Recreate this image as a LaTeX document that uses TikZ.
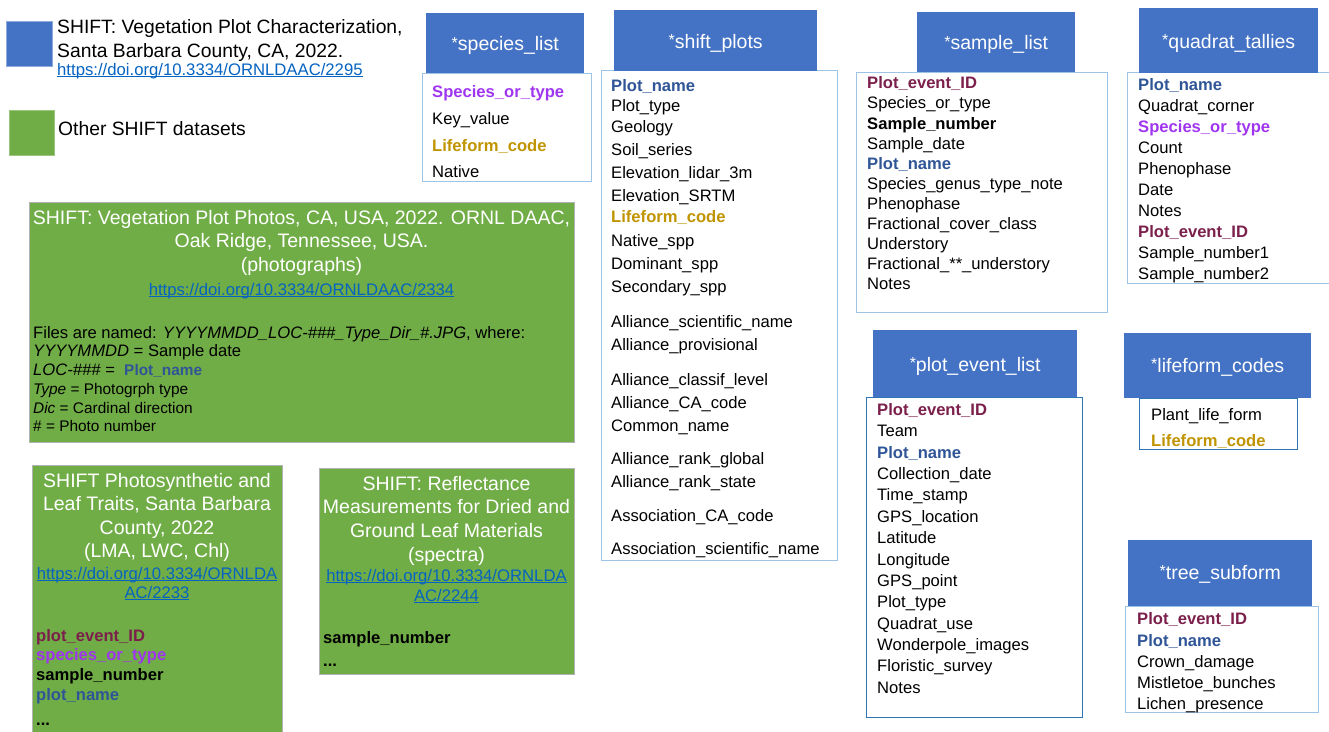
\documentclass[tikz,border=0pt]{standalone}
\usepackage{fontspec}
\setmainfont{Liberation Sans}
\definecolor{hdrblue}{HTML}{4472C4}
\definecolor{grn}{HTML}{70AD47}
\definecolor{linkblue}{HTML}{0563C1}
\definecolor{keymaroon}{HTML}{7B1F4B}
\definecolor{keyblue}{HTML}{2F5597}
\definecolor{keypurple}{HTML}{A035F0}
\definecolor{keygold}{HTML}{C09400}
\definecolor{tblline}{HTML}{9DC3E6}
\definecolor{tblstrong}{HTML}{2E75B6}
\newcommand{\fldfont}{\fontsize{16.6}{20}\selectfont}
\newcommand{\hdrfont}{\fontsize{19.5}{23}\selectfont}
\newcommand{\lnkfont}{\fontsize{16.7}{20}\selectfont}
\newcommand{\lnk}[1]{{\color{linkblue}\setbox0\hbox{#1}\rlap{\rule[-1.8pt]{\wd0}{0.9pt}}\box0}}
\newcommand{\hdrast}{\raisebox{2.5pt}{\fontsize{16}{16}\selectfont *}}
\tikzset{
  hdr/.style={fill=hdrblue, text=white, font=\hdrfont, anchor=north west, inner sep=0pt, text height=19pt, text depth=4pt},
  tbl/.style={draw=tblline, line width=0.8pt, anchor=north west, inner sep=0pt},
  tblstrong/.style={tbl, draw=tblstrong, line width=1.3pt},
  fld/.style={anchor=base west, inner sep=0pt, font=\fldfont, text=black},
  bfld/.style={fld, font=\fldfont\bfseries},
  pkey/.style={bfld, text=keymaroon},
  pname/.style={bfld, text=keyblue},
  spkey/.style={bfld, text=keypurple},
  lfkey/.style={bfld, text=keygold},
  grnbox/.style={fill=grn, draw=gray!60, line width=0.6pt, anchor=north west, inner sep=0pt},
  ttl/.style={anchor=base, inner sep=0pt, text=white, font=\hdrfont},
  lnkline/.style={anchor=base, inner sep=0pt, font=\lnkfont},
  note/.style={anchor=base west, inner sep=0pt, font=\fldfont},
  smallnote/.style={anchor=base west, inner sep=0pt, font=\fontsize{15.4}{18}\selectfont},
  legtxt/.style={anchor=base west, inner sep=0pt, font=\fontsize{19.3}{23}\selectfont}
}
\begin{document}
\begin{tikzpicture}[x=1pt, y=-1pt]
\useasboundingbox (0,0) rectangle (1329,731);
% legend
\node[fill=hdrblue, draw=hdrblue!60!white, anchor=north west, inner sep=0pt, minimum width=46pt, minimum height=45pt] (legB) at (6,21) {};
\node[legtxt] (legB1) at (57,33) {SHIFT: Vegetation Plot Characterization,};
\node[legtxt] (legB2) at (57,57) {Santa Barbara County, CA, 2022.};
\node[anchor=base west, inner sep=0pt, font=\lnkfont] (legB3) at (57,75) {\lnk{https://doi.org/10.3334/ORNLDAAC/2295}};
\node[fill=grn, draw=grn!70!white, anchor=north west, inner sep=0pt, minimum width=45pt, minimum height=45pt] (legG) at (9,110) {};
\node[legtxt] (legG1) at (58,135) {Other SHIFT datasets};
% photos dataset
\node[grnbox, minimum width=545pt, minimum height=240pt] (photoB) at (29,202) {};
\node[ttl] (ph1) at (301.5,224) {SHIFT: Vegetation Plot Photos, CA, USA, 2022. ORNL DAAC,};
\node[ttl] (ph2) at (301.5,247) {Oak Ridge, Tennessee, USA.};
\node[ttl] (ph3) at (301.5,271) {(photographs)};
\node[lnkline] (ph4) at (301.5,295) {\lnk{https://doi.org/10.3334/ORNLDAAC/2334}};
\node[note] (ph5) at (33,338) {Files are named: \textit{YYYYMMDD\_LOC-\#\#\#\_Type\_Dir\_\#.JPG}, where:};
\node[note] (ph6) at (33,356) {\textit{YYYYMMDD} = Sample date};
\node[note] (ph7) at (33,375) {\textit{LOC-\#\#\#} =~ {\color{keyblue}\bfseries\fontsize{15.4}{18}\selectfont Plot\_name}};
\node[smallnote] (ph8) at (33,394) {\textit{Type} = Photogrph type};
\node[smallnote] (ph9) at (33,413) {\textit{Dic} = Cardinal direction};
\node[smallnote] (ph10) at (33,431) {\# = Photo number};
% leaf traits dataset
\node[grnbox, minimum width=250pt, minimum height=270pt] (leafB) at (32,465) {};
\node[ttl] (lf1) at (157,487) {SHIFT Photosynthetic and};
\node[ttl] (lf2) at (157,510) {Leaf Traits, Santa Barbara};
\node[ttl] (lf3) at (157,534) {County, 2022};
\node[ttl] (lf4) at (157,557) {(LMA, LWC, Chl)};
\node[lnkline] (lf5) at (157,579) {\lnk{https://doi.org/10.3334/ORNLDA}};
\node[lnkline] (lf6) at (157,598) {\lnk{AC/2233}};
\node[pkey] (lf7) at (36,641) {plot\_event\_ID};
\node[spkey] (lf8) at (36,660) {species\_or\_type};
\node[bfld] (lf9) at (36,680) {sample\_number};
\node[pname] (lf10) at (36,700) {plot\_name};
\node[bfld] (lf11) at (36,725) {...};
% reflectance dataset
\node[grnbox, minimum width=255pt, minimum height=206pt] (reflB) at (319,468) {};
\node[ttl] (rf1) at (446.5,490) {SHIFT: Reflectance};
\node[ttl] (rf2) at (446.5,513) {Measurements for Dried and};
\node[ttl] (rf3) at (446.5,537) {Ground Leaf Materials};
\node[ttl] (rf4) at (446.5,561) {(spectra)};
\node[lnkline] (rf5) at (446.5,581) {\lnk{https://doi.org/10.3334/ORNLDA}};
\node[lnkline] (rf6) at (446.5,601) {\lnk{AC/2244}};
\node[bfld] (rf7) at (323,643) {sample\_number};
\node[bfld] (rf8) at (323,666) {...};
% species_list
\node[tbl, minimum width=169pt, minimum height=108pt] (specB) at (422,73) {};
\node[hdr, minimum width=158pt, minimum height=60pt] (specH) at (426,13) {\hdrast species\_list};
\node[spkey] (sp1) at (432,97) {Species\_or\_type};
\node[fld] (sp2) at (432,124) {Key\_value};
\node[lfkey] (sp3) at (432,151) {Lifeform\_code};
\node[fld] (sp4) at (432,177) {Native};
% shift_plots
\node[tbl, minimum width=236pt, minimum height=490pt] (shiftB) at (601,70) {};
\node[hdr, minimum width=203pt, minimum height=61pt] (shiftH) at (614,10) {\hdrast shift\_plots};
\node[pname] (sh1) at (611,91) {Plot\_name};
\node[fld] (sh2) at (611,111) {Plot\_type};
\node[fld] (sh3) at (611,132) {Geology};
\node[fld] (sh4) at (611,155) {Soil\_series};
\node[fld] (sh5) at (611,178) {Elevation\_lidar\_3m};
\node[fld] (sh6) at (611,201) {Elevation\_SRTM};
\node[lfkey] (sh7) at (611,222) {Lifeform\_code};
\node[fld] (sh8) at (611,246) {Native\_spp};
\node[fld] (sh9) at (611,269) {Dominant\_spp};
\node[fld] (sh10) at (611,292) {Secondary\_spp};
\node[fld] (sh11) at (611,327) {Alliance\_scientific\_name};
\node[fld] (sh12) at (611,350) {Alliance\_provisional};
\node[fld] (sh13) at (611,385) {Alliance\_classif\_level};
\node[fld] (sh14) at (611,408) {Alliance\_CA\_code};
\node[fld] (sh15) at (611,431) {Common\_name};
\node[fld] (sh16) at (611,464) {Alliance\_rank\_global};
\node[fld] (sh17) at (611,487) {Alliance\_rank\_state};
\node[fld] (sh18) at (611,521) {Association\_CA\_code};
\node[fld] (sh19) at (611,554) {Association\_scientific\_name};
% sample_list
\node[tbl, minimum width=251pt, minimum height=240pt] (sampleB) at (856,72) {};
\node[hdr, minimum width=158pt, minimum height=60pt] (sampleH) at (917,12) {\hdrast sample\_list};
\node[pkey] (sa1) at (867,88) {Plot\_event\_ID};
\node[fld] (sa2) at (867,108) {Species\_or\_type};
\node[bfld] (sa3) at (867,129) {Sample\_number};
\node[fld] (sa4) at (867,149) {Sample\_date};
\node[pname] (sa5) at (867,169) {Plot\_name};
\node[fld] (sa6) at (867,189) {Species\_genus\_type\_note};
\node[fld] (sa7) at (867,209) {Phenophase};
\node[fld] (sa8) at (867,229) {Fractional\_cover\_class};
\node[fld] (sa9) at (867,249) {Understory};
\node[fld] (sa10) at (867,269) {Fractional\_**\_understory};
\node[fld] (sa11) at (867,289) {Notes};
% quadrat_tallies
\node[tbl, minimum width=210pt, minimum height=211pt] (quadB) at (1127,72) {};
\node[hdr, minimum width=179pt, minimum height=65pt] (quadH) at (1139,8) {\hdrast quadrat\_tallies};
\node[pname] (qt1) at (1138,90) {Plot\_name};
\node[fld] (qt2) at (1138,111) {Quadrat\_corner};
\node[spkey] (qt3) at (1138,132) {Species\_or\_type};
\node[fld] (qt4) at (1138,153) {Count};
\node[fld] (qt5) at (1138,174) {Phenophase};
\node[fld] (qt6) at (1138,195) {Date};
\node[fld] (qt7) at (1138,216) {Notes};
\node[pkey] (qt8) at (1138,237) {Plot\_event\_ID};
\node[fld] (qt9) at (1138,258) {Sample\_number1};
\node[fld] (qt10) at (1138,279) {Sample\_number2};
% plot_event_list
\node[tblstrong, minimum width=216pt, minimum height=320pt] (eventB) at (866,397) {};
\node[hdr, minimum width=204pt, minimum height=67pt] (eventH) at (873,330) {\hdrast plot\_event\_list};
\node[pkey] (ev1) at (877,415) {Plot\_event\_ID};
\node[fld] (ev2) at (877,436) {Team};
\node[pname] (ev3) at (877,458) {Plot\_name};
\node[fld] (ev4) at (877,479) {Collection\_date};
\node[fld] (ev5) at (877,500) {Time\_stamp};
\node[fld] (ev6) at (877,522) {GPS\_location};
\node[fld] (ev7) at (877,543) {Latitude};
\node[fld] (ev8) at (877,565) {Longitude};
\node[fld] (ev9) at (877,586) {GPS\_point};
\node[fld] (ev10) at (877,607) {Plot\_type};
\node[fld] (ev11) at (877,629) {Quadrat\_use};
\node[fld] (ev12) at (877,650) {Wonderpole\_images};
\node[fld] (ev13) at (877,671) {Floristic\_survey};
\node[fld] (ev14) at (877,693) {Notes};
% lifeform_codes
\node[tblstrong, minimum width=158pt, minimum height=51pt] (lifeB) at (1139,398) {};
\node[hdr, minimum width=187pt, minimum height=65pt, text height=17pt] (lifeH) at (1124,333) {\hdrast lifeform\_codes};
\node[fld] (lc1) at (1151,420) {Plant\_life\_form};
\node[lfkey] (lc2) at (1151,446) {Lifeform\_code};
% tree_subform
\node[tbl, minimum width=193pt, minimum height=106pt] (treeB) at (1125,606) {};
\node[hdr, minimum width=184pt, minimum height=66pt, text height=16pt] (treeH) at (1128,540) {\hdrast tree\_subform};
\node[pkey] (ts1) at (1137,624) {Plot\_event\_ID};
\node[pname] (ts2) at (1137,646) {Plot\_name};
\node[fld] (ts3) at (1137,667) {Crown\_damage};
\node[fld] (ts4) at (1137,688) {Mistletoe\_bunches};
\node[fld] (ts5) at (1137,709) {Lichen\_presence};
\end{tikzpicture}
\end{document}
